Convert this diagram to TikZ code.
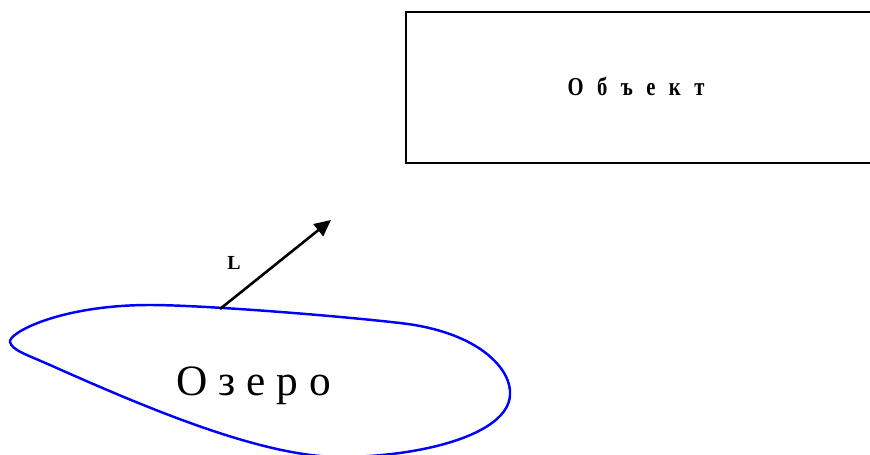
\documentclass[tikz,border=0pt]{standalone}
\usepackage{fontspec}
\setmainfont{Liberation Serif}
\usetikzlibrary{arrows.meta}
\definecolor{lakeblue}{RGB}{0,0,255}

\begin{document}
\begin{tikzpicture}[x=0.03cm, y=-0.03cm,
    frame/.style={draw=black, line width=2.3pt},
    shore/.style={draw=lakeblue, line width=2.1pt},
    vec/.style={-{Triangle[length=14pt,width=13pt]}, line width=2.2pt},
    objtext/.style={anchor=base, inner sep=0pt,
        font=\bfseries\fontsize{22}{24}\selectfont\addfontfeature{FakeStretch=0.8}},
    laketext/.style={anchor=base, inner sep=0pt, font=\fontsize{37}{40}\selectfont},
    vectext/.style={anchor=base, inner sep=0pt, font=\bfseries\fontsize{17}{19}\selectfont}
]
\useasboundingbox (0,0) rectangle (870,455);
\clip (0,0) rectangle (870,455);

% Object (runs off the right edge)
\draw[frame] (900,12) -| (406,163) -- (900,163);
\node[objtext] at (636,96) (obj) {\spaceskip=11.5pt О б ъ е к т};

% Lake
\draw[shore] (10,342) .. controls (8,333) and (60,305) .. (150,305)
    .. controls (200,305) and (330,315) .. (400,323)
    .. controls (480,332) and (512,370) .. (510,395)
    .. controls (508,435) and (420,457) .. (340,457)
    .. controls (260,457) and (140,405) .. (50,365)
    .. controls (25,354) and (12,350) .. cycle;
\node[laketext] at (254,395) (lake) {О з е р о};

% Direction vector
\coordinate (shorept) at (220,309);
\coordinate (tip) at (331,220);
\draw[vec] (shorept) -- (tip);
\node[vectext] at (234,269) (lbl) {L};
\end{tikzpicture}
\end{document}
